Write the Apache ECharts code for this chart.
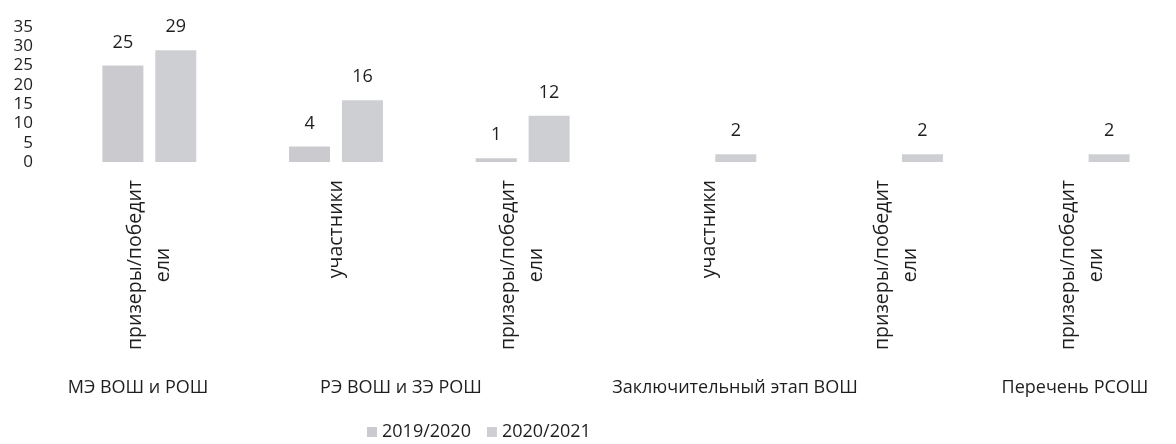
<!DOCTYPE html>
<html>
<head>
<meta charset="utf-8">
<script src="https://cdn.jsdelivr.net/npm/echarts@6/dist/echarts.min.js"></script>
<style>
  html, body { margin: 0; padding: 0; background: #ffffff; }
  #view { width: 1176px; height: 444px; }
</style>
</head>
<body>
<div id="view"></div>
<script>
// sub-categories (lower axis level)
const categories = [
  "призеры/победители",
  "участники",
  "призеры/победители",
  "участники",
  "призеры/победители",
  "призеры/победители",
];
// group labels (upper axis level)
const groups = [
  "МЭ ВОШ и РОШ",
  "РЭ ВОШ и ЗЭ РОШ",
  "Заключительный этап ВОШ",
  "Перечень РСОШ",
];
const seriesNames = ["2019/2020", "2020/2021"];
const values2019 = [25, 4, 1, null, null, null];
const values2020 = [29, 16, 12, 2, 2, 2];
const yTicks = [0, 5, 10, 15, 20, 25, 30, 35];

const font = "'Open Sans', 'DejaVu Sans', sans-serif";
const textColor = "#1e1e1e";
const subSize = 19.5;
const wrapAt = 15;

let myChart = echarts.init(document.getElementById("view"));

// x centers of the group labels under the chart
const groupX = [138, 401, 735, 1075];

let graphicList = groups.map((g, i) => ({
  type: "text",
  x: groupX[i],
  y: 379,
  style: {
    text: g,
    align: "center",
    font: "18px " + font,
    fill: textColor,
  },
}));

let labelStyle = {
  show: true,
  position: "top",
  distance: 14,
  fontSize: 18,
  color: textColor,
  fontFamily: font,
};

let option = {
  backgroundColor: "#ffffff",
  textStyle: { fontFamily: font },
  animation: false,
  legend: {
    data: seriesNames,
    left: 362,
    top: 418,
    itemWidth: 10,
    itemHeight: 10,
    itemGap: 16,
    icon: "rect",
    textStyle: { fontSize: 18, color: textColor, fontFamily: font },
  },
  grid: {
    left: 56,
    width: 1130,
    top: 27,
    bottom: 282,
    containLabel: false,
  },
  xAxis: {
    type: "category",
    data: categories,
    axisLine: { show: false },
    axisTick: { show: false },
    axisLabel: {
      interval: 0,
      rotate: 90,
      margin: 18,
      fontSize: subSize,
      color: textColor,
      fontFamily: font,
      lineHeight: 28,
      formatter: (v) => {
        if (v.length > wrapAt) {
          // wrapped the way the original wraps it, lines centred
          return "{c|" + v.slice(0, wrapAt) + "}\n{c|" + v.slice(wrapAt) + "}";
        }
        return v;
      },
      rich: {
        c: {
          align: "center",
          fontSize: subSize,
          lineHeight: 28,
          color: textColor,
          fontFamily: font,
        },
      },
    },
  },
  yAxis: {
    type: "value",
    min: yTicks[0],
    max: yTicks[yTicks.length - 1],
    interval: 5,
    axisLine: { show: false },
    axisTick: { show: false },
    splitLine: { show: false },
    axisLabel: {
      margin: 23,
      fontSize: 17,
      color: textColor,
      fontFamily: font,
    },
  },
  graphic: graphicList,
  series: [
    {
      name: seriesNames[0],
      type: "bar",
      data: values2019,
      barWidth: 41,
      barGap: "29%",
      itemStyle: { color: "#cbcbcf" },
      label: labelStyle,
    },
    {
      name: seriesNames[1],
      type: "bar",
      data: values2020,
      barWidth: 41,
      barGap: "29%",
      itemStyle: { color: "#cecfd2" },
      label: labelStyle,
    },
  ],
};
myChart.setOption(option);
</script>
</body>
</html>
